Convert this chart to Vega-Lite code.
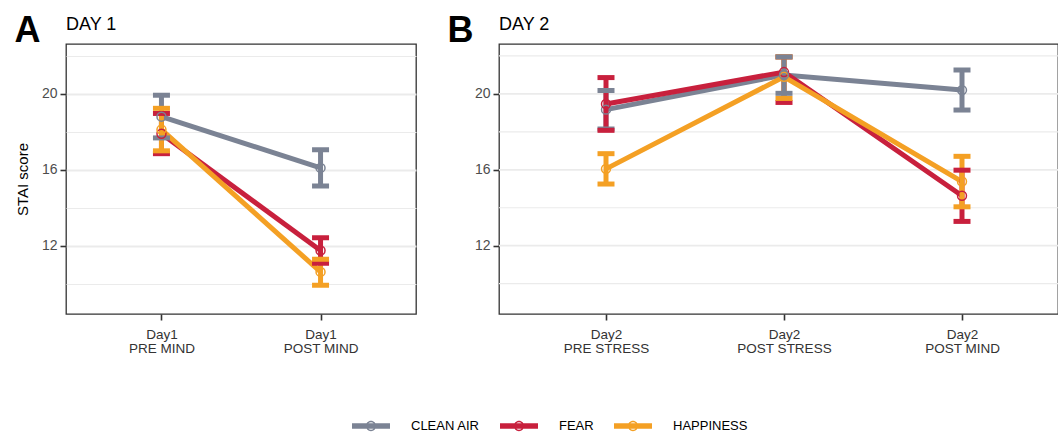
{
  "$schema": "https://vega.github.io/schema/vega-lite/v6.json",
  "padding": {"left": 13, "top": 11, "right": 0, "bottom": 0},
  "autosize": {"type": "pad"},
  "bounds": "flush",
  "spacing": 83,
  "config": {
    "font": "Liberation Sans",
    "view": {"stroke": "#333333", "strokeWidth": 1.3},
    "axis": {
      "gridColor": "#ebebeb",
      "gridWidth": 1.8,
      "tickColor": "#333333",
      "tickWidth": 1.6,
      "tickSize": 6,
      "domain": false,
      "labelColor": "#4d4d4d",
      "labelFont": "Liberation Sans",
      "labelFontSize": 13.5,
      "labelPadding": 3
    }
  },
  "datasets": {
    "day1": [
      {"condition": "CLEAN AIR", "time": "Day1|PRE MIND", "mean": 18.8, "lower": 17.68, "upper": 19.93},
      {"condition": "CLEAN AIR", "time": "Day1|POST MIND", "mean": 16.1, "lower": 15.15, "upper": 17.05},
      {"condition": "FEAR", "time": "Day1|PRE MIND", "mean": 17.9, "lower": 16.85, "upper": 18.97},
      {"condition": "FEAR", "time": "Day1|POST MIND", "mean": 11.75, "lower": 11.08, "upper": 12.42},
      {"condition": "HAPPINESS", "time": "Day1|PRE MIND", "mean": 18.12, "lower": 17.0, "upper": 19.24},
      {"condition": "HAPPINESS", "time": "Day1|POST MIND", "mean": 10.62, "lower": 9.92, "upper": 11.28}
    ],
    "day2": [
      {"condition": "CLEAN AIR", "time": "Day2|PRE STRESS", "mean": 19.17, "lower": 18.15, "upper": 20.18},
      {"condition": "CLEAN AIR", "time": "Day2|POST MIND", "mean": 20.2, "lower": 19.15, "upper": 21.26},
      {"condition": "FEAR", "time": "Day2|PRE STRESS", "mean": 19.47, "lower": 18.08, "upper": 20.86},
      {"condition": "FEAR", "time": "Day2|POST STRESS", "mean": 21.15, "lower": 19.55, "upper": 21.95},
      {"condition": "FEAR", "time": "Day2|POST MIND", "mean": 14.63, "lower": 13.28, "upper": 15.98},
      {"condition": "HAPPINESS", "time": "Day2|PRE STRESS", "mean": 16.05, "lower": 15.25, "upper": 16.85},
      {"condition": "HAPPINESS", "time": "Day2|POST STRESS", "mean": 20.9, "lower": 19.76, "upper": 21.95},
      {"condition": "HAPPINESS", "time": "Day2|POST MIND", "mean": 15.38, "lower": 14.05, "upper": 16.71},
      {"condition": "CLEAN AIR", "time": "Day2|POST STRESS", "mean": 21.0, "lower": 20.03, "upper": 21.95}
    ]
  },
  "hconcat": [
    {
      "width": 350,
      "height": 270,
      "title": {"text": "DAY 1", "anchor": "start", "frame": "group", "fontSize": 18, "fontWeight": "normal", "color": "#000000", "baseline": "alphabetic", "offset": -36},
      "data": {"name": "day1"},
      "encoding": {
        "x": {
          "field": "time", "type": "nominal",
          "sort": ["Day1|PRE MIND", "Day1|POST MIND"],
          "scale": {"type": "point", "padding": 0.6},
          "axis": {
            "title": "A", "titleX": -52, "titleY": -273, "titleAlign": "left", "titleBaseline": "alphabetic", "titleAngle": 0,
            "titleFontSize": 36, "titleFontWeight": "bold", "titleColor": "#000000",
            "labelAngle": 0, "labelExpr": "split(datum.label, '|')", "labelLineHeight": 14, "labelColor": "#333333", "labelPadding": 7
          }
        },
        "color": {
          "field": "condition", "type": "nominal",
          "scale": {"domain": ["CLEAN AIR", "FEAR", "HAPPINESS"], "range": ["#7b8394", "#c8203d", "#f4a024"]},
          "legend": {
            "orient": "none", "legendX": 286, "legendY": 363, "direction": "horizontal", "title": null, "padding": 0,
            "symbolType": "M-1,-0.14H1V0.14H-1Z M0.27,0A0.27,0.27 0 1,1 -0.27,0A0.27,0.27 0 1,1 0.27,0Z M0.2,0A0.2,0.2 0 1,0 -0.2,0A0.2,0.2 0 1,0 0.2,0Z",
            "symbolSize": 1444, "symbolStrokeWidth": 0, "labelFontSize": 13, "labelColor": "#000000", "labelOffset": 21, "columnPadding": 20,
            "encode": {"symbols": {"update": {"fill": {"scale": "color", "field": "value"}, "fillOpacity": {"value": 1}, "opacity": {"value": 1}}}}
          }
        }
      },
      "layer": [
        {
          "mark": {"type": "line", "strokeWidth": 5},
          "encoding": {
            "y": {
              "field": "mean", "type": "quantitative",
              "scale": {"domain": [8.4, 22.63], "nice": false, "zero": false},
              "axis": {
                "title": "STAI score", "values": [10, 12, 14, 16, 18, 20, 22],
                "labelExpr": "datum.value % 4 == 0 ? datum.label : ''",
                "tickOpacity": {"condition": {"test": "datum.value % 4 == 0", "value": 1}, "value": 0},
                "gridWidth": {"condition": {"test": "datum.value % 4 == 0", "value": 1.8}, "value": 1.2},
                "titleFontSize": 15, "titleFontWeight": "normal", "titleColor": "#000000", "titlePadding": 11, "labelFontSize": 14
              }
            }
          }
        },
        {
          "mark": {"type": "rule", "strokeWidth": 5},
          "encoding": {"y": {"field": "lower", "type": "quantitative"}, "y2": {"field": "upper"}}
        },
        {
          "mark": {"type": "tick", "thickness": 5, "size": 17, "opacity": 1},
          "encoding": {"y": {"field": "lower", "type": "quantitative"}}
        },
        {
          "mark": {"type": "tick", "thickness": 5, "size": 17, "opacity": 1},
          "encoding": {"y": {"field": "upper", "type": "quantitative"}}
        },
        {
          "mark": {"type": "point", "shape": "circle", "filled": false, "size": 80, "strokeWidth": 1.5, "opacity": 1},
          "encoding": {"y": {"field": "mean", "type": "quantitative"}}
        }
      ]
    },
    {
      "width": 559,
      "height": 270,
      "title": {"text": "DAY 2", "anchor": "start", "frame": "group", "fontSize": 18, "fontWeight": "normal", "color": "#000000", "baseline": "alphabetic", "offset": -36},
      "layer": [
        {"data": {"values": [{}]}, "mark": {"type": "rule", "color": "#ebebeb", "strokeWidth": 1.2}, "encoding": {"y": {"datum": 10, "type": "quantitative"}}},
        {"data": {"values": [{}]}, "mark": {"type": "rule", "color": "#ebebeb", "strokeWidth": 1.8}, "encoding": {"y": {"datum": 12, "type": "quantitative"}}},
        {"data": {"values": [{}]}, "mark": {"type": "rule", "color": "#ebebeb", "strokeWidth": 1.2}, "encoding": {"y": {"datum": 14, "type": "quantitative"}}},
        {"data": {"values": [{}]}, "mark": {"type": "rule", "color": "#ebebeb", "strokeWidth": 1.8}, "encoding": {"y": {"datum": 16, "type": "quantitative"}}},
        {"data": {"values": [{}]}, "mark": {"type": "rule", "color": "#ebebeb", "strokeWidth": 1.2}, "encoding": {"y": {"datum": 18, "type": "quantitative"}}},
        {"data": {"values": [{}]}, "mark": {"type": "rule", "color": "#ebebeb", "strokeWidth": 1.8}, "encoding": {"y": {"datum": 20, "type": "quantitative"}}},
        {"data": {"values": [{}]}, "mark": {"type": "rule", "color": "#ebebeb", "strokeWidth": 1.2}, "encoding": {"y": {"datum": 22, "type": "quantitative"}}},
        {
          "data": {"name": "day2"},
          "mark": {"type": "line", "strokeWidth": 5},
          "encoding": {
            "x": {
              "field": "time", "type": "nominal",
              "sort": ["Day2|PRE STRESS", "Day2|POST STRESS", "Day2|POST MIND"],
              "scale": {"type": "point", "padding": 0, "range": [107, 463]},
              "axis": {
                "title": "B", "titleX": -52, "titleY": -273, "titleAlign": "left", "titleBaseline": "alphabetic", "titleAngle": 0,
                "titleFontSize": 36, "titleFontWeight": "bold", "titleColor": "#000000",
                "labelAngle": 0, "labelExpr": "split(datum.label, '|')", "labelLineHeight": 14, "labelColor": "#333333", "labelPadding": 7
              }
            },
            "y": {
              "field": "mean", "type": "quantitative",
              "scale": {"domain": [8.4, 22.63], "nice": false, "zero": false},
              "axis": {
                "title": null, "values": [12, 16, 20], "grid": false, "labelFontSize": 14
              }
            },
            "color": {"field": "condition", "type": "nominal"}
          }
        },
        {
          "data": {"name": "day2"},
          "mark": {"type": "rule", "strokeWidth": 5},
          "encoding": {
            "x": {"field": "time", "type": "nominal", "sort": ["Day2|PRE STRESS", "Day2|POST STRESS", "Day2|POST MIND"]},
            "y": {"field": "lower", "type": "quantitative"}, "y2": {"field": "upper"},
            "color": {"field": "condition", "type": "nominal"}
          }
        },
        {
          "data": {"name": "day2"},
          "mark": {"type": "tick", "thickness": 5, "size": 17, "opacity": 1},
          "encoding": {
            "x": {"field": "time", "type": "nominal", "sort": ["Day2|PRE STRESS", "Day2|POST STRESS", "Day2|POST MIND"]},
            "y": {"field": "lower", "type": "quantitative"},
            "color": {"field": "condition", "type": "nominal"}
          }
        },
        {
          "data": {"name": "day2"},
          "mark": {"type": "tick", "thickness": 5, "size": 17, "opacity": 1},
          "encoding": {
            "x": {"field": "time", "type": "nominal", "sort": ["Day2|PRE STRESS", "Day2|POST STRESS", "Day2|POST MIND"]},
            "y": {"field": "upper", "type": "quantitative"},
            "color": {"field": "condition", "type": "nominal"}
          }
        },
        {
          "data": {"name": "day2"},
          "mark": {"type": "point", "shape": "circle", "filled": false, "size": 80, "strokeWidth": 1.5, "opacity": 1},
          "encoding": {
            "x": {"field": "time", "type": "nominal", "sort": ["Day2|PRE STRESS", "Day2|POST STRESS", "Day2|POST MIND"]},
            "y": {"field": "mean", "type": "quantitative"},
            "color": {"field": "condition", "type": "nominal"}
          }
        }
      ]
    }
  ]
}
